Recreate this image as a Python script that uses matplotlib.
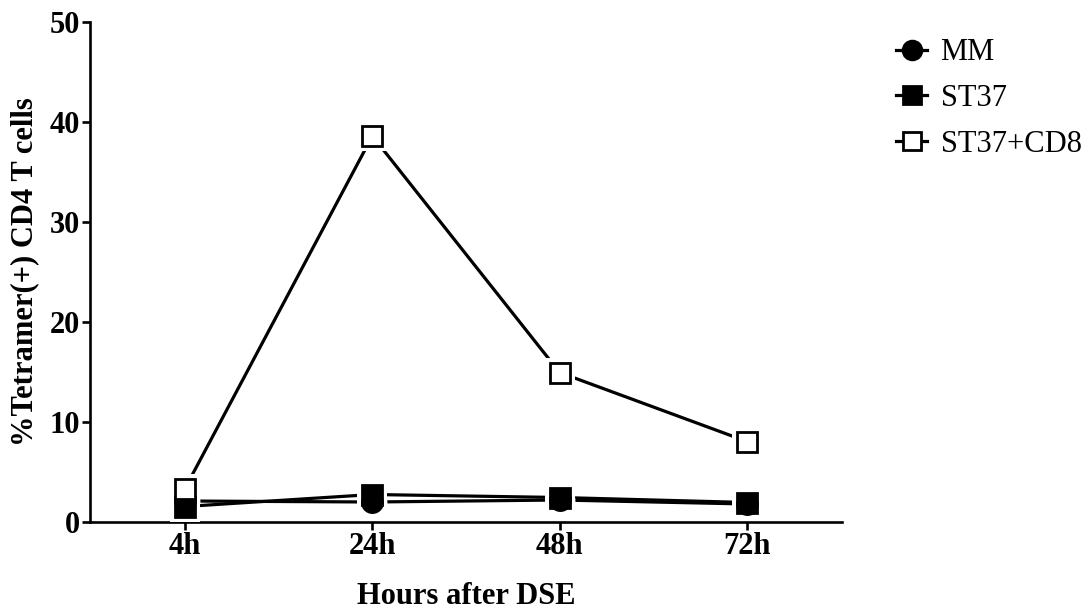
import matplotlib
matplotlib.use("Agg")
import matplotlib.pyplot as plt
from matplotlib.lines import Line2D

plt.rcParams['font.family'] = ['Liberation Serif', 'DejaVu Serif']

timepoints = ["4h", "24h", "48h", "72h"]
mm = [2.1, 2.0, 2.2, 1.8]
st37 = [1.55, 2.75, 2.45, 1.95]
st37_cd8 = [3.35, 38.6, 14.95, 8.05]

fig = plt.figure(figsize=(10.88, 6.10), dpi=100)
ax = fig.add_axes([90/1088, 1-522/610, (842-90)/1088, 500/610])

x = list(range(len(timepoints)))
series = [
    ("MM", mm, 'o', 'black'),
    ("ST37", st37, 's', 'black'),
    ("ST37+CD8", st37_cd8, 's', 'white'),
]
ms = 14.5
lw = 2.3
for name, vals, mk, fc in series:
    ax.plot(x, vals, '-', color='black', lw=lw, zorder=2, solid_capstyle='butt')
for name, vals, mk, fc in series:
    ax.plot(x, vals, linestyle='none', marker=mk, ms=ms + 7, mfc='white',
            mec='white', mew=0, zorder=3)
order = [2, 0, 1]
for i in order:
    name, vals, mk, fc = series[i]
    ax.plot(x, vals, linestyle='none', marker=mk, ms=ms, mfc=fc,
            mec='black', mew=2.0, zorder=4 + i)

ax.set_xlim(-0.507, 3.507)
ax.set_ylim(0, 50)
ax.set_xticks(x)
ax.set_xticklabels(timepoints)
ax.set_yticks([0, 10, 20, 30, 40, 50])
for s in ['top', 'right']:
    ax.spines[s].set_visible(False)
for s in ['left', 'bottom']:
    ax.spines[s].set_linewidth(1.9)
ax.tick_params(axis='both', width=1.9, length=5.5, direction='out',
               labelsize=22, pad=2)
for lab in ax.get_xticklabels() + ax.get_yticklabels():
    lab.set_fontweight('bold')
ax.set_xlabel("Hours after DSE", fontsize=22, fontweight='bold', labelpad=15)
ax.set_ylabel("%Tetramer(+) CD4 T cells", fontsize=22, fontweight='bold', labelpad=7)

handles = [Line2D([], [], color='black', lw=lw, marker=mk, ms=ms - 1, mfc=fc,
                  mec='black', mew=2.0) for name, vals, mk, fc in series]
fig.legend(handles, [s[0] for s in series], loc='upper left',
           bbox_to_anchor=(884/1088, 1-26/610), frameon=False, fontsize=22,
           handlelength=1.0, handletextpad=0.45, labelspacing=0.55,
           borderaxespad=0)

fig.savefig("out.png", dpi=100)
